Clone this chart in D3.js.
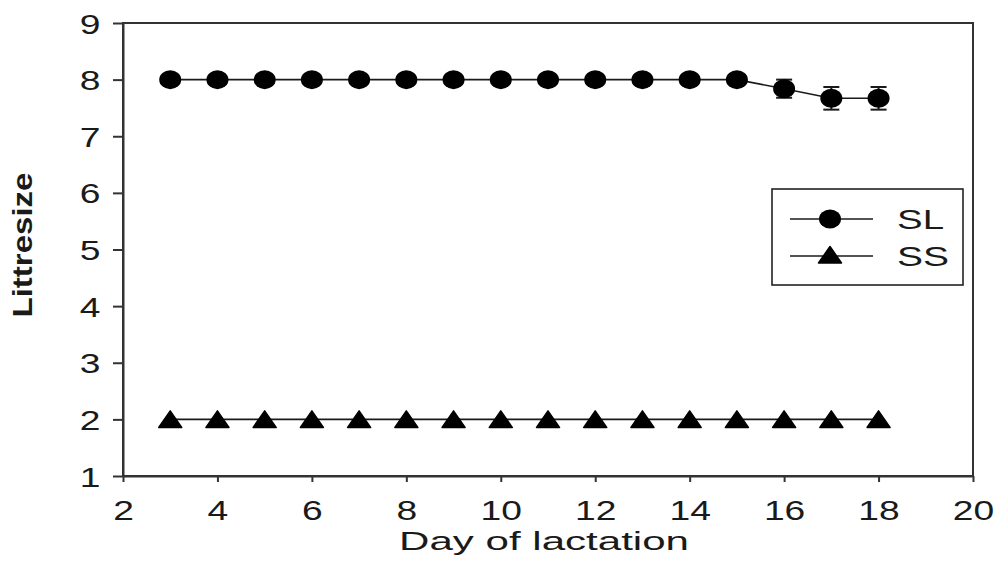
<!DOCTYPE html>
<html><head><meta charset="utf-8">
<script src="https://cdn.jsdelivr.net/npm/d3@7"></script>
<style>body{margin:0;background:#fff}svg{display:block}text{font-family:"Liberation Sans",Arial,sans-serif;fill:#1a1a1a}</style>
</head><body>
<script>
const days = [3,4,5,6,7,8,9,10,11,12,13,14,15,16,17,18];
const slValues = [8,8,8,8,8,8,8,8,8,8,8,8,8,7.84,7.67,7.67];
const slErrors = [0,0,0,0,0,0,0,0,0,0,0,0,0,0.16,0.2,0.2];
const ssValues = [2,2,2,2,2,2,2,2,2,2,2,2,2,2,2,2];
const xTicks = [2,4,6,8,10,12,14,16,18,20];
const yTicks = [1,2,3,4,5,6,7,8,9];
const seriesNames = ["SL","SS"];

const W=1003,H=579;
const m={left:123,right:30,top:23,bottom:103};
const svg=d3.select("body").append("svg").attr("width",W).attr("height",H);
const x=d3.scaleLinear().domain([2,20]).range([m.left,W-m.right]);
const y=d3.scaleLinear().domain([1,9]).range([H-m.bottom,m.top]);
const ink="#1a1a1a";

// frame
svg.append("rect").attr("x",x(2)).attr("y",y(9)).attr("width",x(20)-x(2)).attr("height",y(1)-y(9))
  .attr("fill","none").attr("stroke","#333").attr("stroke-width",2);

const gx=svg.append("g").attr("transform",`translate(0,${y(1)})`)
  .call(d3.axisBottom(x).tickValues(xTicks).tickSize(6).tickSizeOuter(0).tickPadding(0));
gx.select(".domain").attr("stroke","#333").attr("stroke-width",2);
gx.selectAll(".tick line").attr("stroke","#333").attr("stroke-width",2);
gx.selectAll(".tick text").attr("font-size",28).attr("y",44).attr("dy",0)
  .attr("transform","scale(1.33,1)").attr("fill",ink);

const gy=svg.append("g").attr("transform",`translate(${x(2)},0)`)
  .call(d3.axisLeft(y).tickValues(yTicks).tickSize(10).tickSizeOuter(0).tickPadding(0));
gy.select(".domain").attr("stroke","#333").attr("stroke-width",2);
gy.selectAll(".tick line").attr("stroke","#333").attr("stroke-width",2);
gy.selectAll(".tick text").attr("font-size",28).attr("x",-17).attr("dy","0.36em")
  .attr("transform","scale(1.33,1)").attr("fill",ink);

// titles
svg.append("text").attr("x",544).attr("y",550).attr("text-anchor","middle")
  .attr("font-size",25).attr("textLength",290).attr("lengthAdjust","spacingAndGlyphs")
  .text("Day of lactation");
svg.append("text").attr("transform","translate(32,245) rotate(-90)").attr("text-anchor","middle")
  .attr("font-size",27).attr("font-weight","bold").attr("textLength",145).attr("lengthAdjust","spacingAndGlyphs")
  .text("Littresize");

const line=d3.line().x(d=>x(d[0])).y(d=>y(d[1]));
const sl=days.map((d,i)=>[d,slValues[i],slErrors[i]]);
const ss=days.map((d,i)=>[d,ssValues[i]]);

svg.append("path").datum(sl).attr("d",line).attr("fill","none").attr("stroke",ink).attr("stroke-width",1.6);
svg.append("path").datum(ss).attr("d",line).attr("fill","none").attr("stroke",ink).attr("stroke-width",1.6);

// error bars
const eb=svg.append("g").selectAll("g").data(sl.filter(d=>d[2]>0)).join("g");
eb.append("line").attr("x1",d=>x(d[0])).attr("x2",d=>x(d[0])).attr("y1",d=>y(d[1]+d[2])).attr("y2",d=>y(d[1]-d[2])).attr("stroke",ink).attr("stroke-width",2);
eb.append("line").attr("x1",d=>x(d[0])-8).attr("x2",d=>x(d[0])+8).attr("y1",d=>y(d[1]+d[2])).attr("y2",d=>y(d[1]+d[2])).attr("stroke",ink).attr("stroke-width",2);
eb.append("line").attr("x1",d=>x(d[0])-8).attr("x2",d=>x(d[0])+8).attr("y1",d=>y(d[1]-d[2])).attr("y2",d=>y(d[1]-d[2])).attr("stroke",ink).attr("stroke-width",2);

function circ(g,cx,cy){g.append("ellipse").attr("cx",cx).attr("cy",cy).attr("rx",11).attr("ry",9.5).attr("fill","#000");}
function tri(g,cx,cy){g.append("path").attr("d",`M${cx-11.5},${cy+8}L${cx+11.5},${cy+8}L${cx},${cy-8.5}Z`).attr("fill","#000").attr("stroke","#000").attr("stroke-width",1.5).attr("stroke-linejoin","round");}

const mk=svg.append("g");
sl.forEach(d=>circ(mk,x(d[0]),y(d[1])));
ss.forEach(d=>tri(mk,x(d[0]),y(d[1])));

// legend
const lg=svg.append("g");
lg.append("rect").attr("x",772).attr("y",189).attr("width",191).attr("height",96).attr("fill","#fff").attr("stroke","#222").attr("stroke-width",1.6);
[219,256].forEach((ly,i)=>{
  lg.append("line").attr("x1",790).attr("x2",873).attr("y1",ly).attr("y2",ly).attr("stroke",ink).attr("stroke-width",1.6);
  if(i===0) circ(lg,830,ly); else tri(lg,830,ly-1);
  lg.append("text").attr("x",897).attr("y",ly+10).attr("font-size",28).attr("textLength",i===0?47:52).attr("lengthAdjust","spacingAndGlyphs").text(seriesNames[i]);
});
</script>
</body></html>
